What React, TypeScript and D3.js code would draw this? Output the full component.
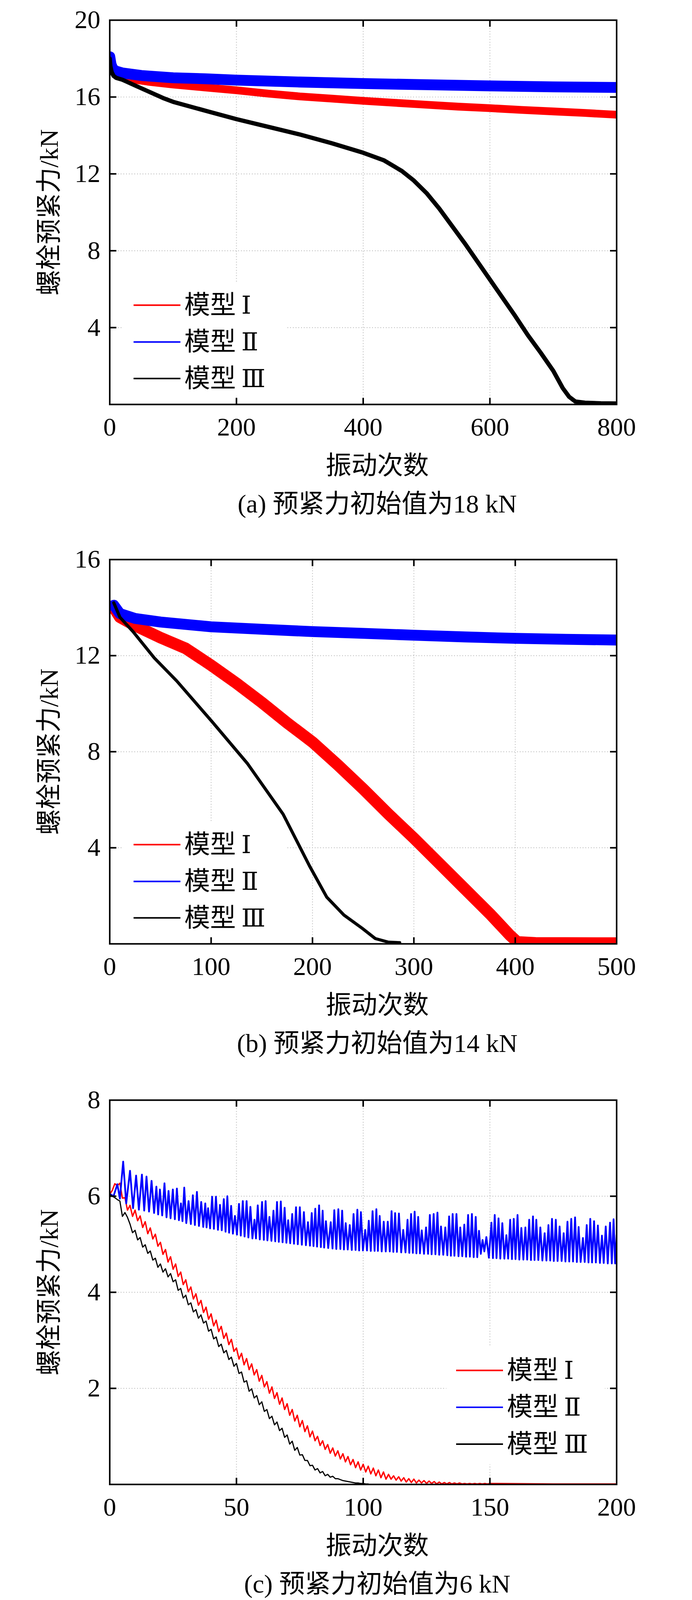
import * as d3 from 'd3';

type Pt = [number, number];

const W = 1772;
const H = 4126;
const PLOT_LEFT = 281;
const PLOT_RIGHT = 1579;
const PLOT_H = 991;
const TEXT_CX = 966;
const FONT = "'Liberation Serif', 'Times New Roman', 'Noto Sans CJK SC', serif";
const NUMERAL_FONT = "'DejaVu Serif', 'Liberation Serif', serif";

const seriesPrefix = '模型';
const seriesNumerals = ['Ⅰ', 'Ⅱ', 'Ⅲ'];
const seriesColors = ['#ff0000', '#0000ff', '#000000'];

// (a) 预紧力初始值为18 kN
const xTicksA = [0, 200, 400, 600, 800];
const yTicksA = [4, 8, 12, 16, 20];
const redA: Pt[] = [
  [0, 18.0], [2, 17.6], [5, 17.35], [10, 17.2], [20, 17.05], [40, 16.9], [60, 16.8],
  [100, 16.65], [150, 16.5], [200, 16.35], [250, 16.18], [300, 16.03], [350, 15.92],
  [400, 15.8], [450, 15.7], [500, 15.6], [550, 15.5], [600, 15.42], [650, 15.33],
  [700, 15.25], [750, 15.17], [800, 15.08],
];
const blueA: Pt[] = [
  [0, 18.1], [2, 17.7], [5, 17.45], [10, 17.35], [20, 17.25], [50, 17.12], [100, 17.0],
  [150, 16.95], [200, 16.88], [300, 16.78], [400, 16.7], [500, 16.64], [600, 16.58],
  [700, 16.53], [800, 16.5],
];
const blackA: Pt[] = [
  [0, 18.0], [1, 17.6], [3, 17.3], [6, 17.1], [10, 17.0], [20, 16.9], [40, 16.6],
  [84, 15.95], [100, 15.75], [155, 15.25], [200, 14.85], [250, 14.45], [300, 14.05],
  [350, 13.6], [400, 13.1], [433, 12.7], [461, 12.15], [480, 11.65], [500, 11.0],
  [520, 10.2], [540, 9.3], [560, 8.4], [580, 7.45], [600, 6.5], [620, 5.55],
  [640, 4.6], [660, 3.6], [680, 2.7], [700, 1.75], [715, 0.85], [725, 0.4],
  [735, 0.15], [750, 0.09], [775, 0.06], [800, 0.05],
];

// (b) 预紧力初始值为14 kN
const xTicksB = [0, 100, 200, 300, 400, 500];
const yTicksB = [4, 8, 12, 16];
const redB: Pt[] = [
  [4, 14.0], [10, 13.6], [25, 13.25], [50, 12.75], [75, 12.3], [100, 11.6], [125, 10.85],
  [150, 10.05], [175, 9.2], [200, 8.4], [225, 7.45], [250, 6.45], [275, 5.4],
  [300, 4.4], [325, 3.35], [350, 2.3], [375, 1.25], [395, 0.35], [402, 0.08],
  [420, 0.04], [500, 0.03],
];
const blueB: Pt[] = [
  [4, 14.1], [10, 13.75], [25, 13.55], [50, 13.4], [100, 13.2], [150, 13.1], [200, 13.0],
  [250, 12.93], [300, 12.85], [350, 12.78], [400, 12.72], [450, 12.68], [500, 12.65],
];
const blackB: Pt[] = [
  [4, 14.2], [10, 13.6], [23, 13.0], [44, 11.9], [66, 10.95], [101, 9.25], [136, 7.5],
  [171, 5.4], [197, 3.25], [214, 1.95], [231, 1.2], [249, 0.65], [262, 0.22],
  [275, 0.07], [286, 0.05],
];

// (c) 预紧力初始值为6 kN  (values at vibration count 0, 1, 2, ...)
const xTicksC = [0, 50, 100, 150, 200];
const yTicksC = [2, 4, 6, 8];
const redC = [
  6.04, 6.12, 6.26, 6.22, 6.27, 5.96, 5.97, 5.71, 5.81, 5.58,
  5.71, 5.49, 5.59, 5.35, 5.47, 5.22, 5.34, 5.11, 5.21, 4.96,
  5.04, 4.79, 4.89, 4.63, 4.74, 4.48, 4.59, 4.33, 4.42, 4.16,
  4.26, 4.01, 4.11, 3.86, 3.97, 3.73, 3.83, 3.58, 3.69, 3.44,
  3.55, 3.30, 3.42, 3.18, 3.29, 3.04, 3.15, 2.91, 3.02, 2.77,
  2.84, 2.61, 2.73, 2.49, 2.62, 2.39, 2.51, 2.28, 2.39, 2.15,
  2.27, 2.03, 2.14, 1.90, 2.03, 1.79, 1.91, 1.67, 1.80, 1.56,
  1.68, 1.44, 1.56, 1.32, 1.44, 1.20, 1.33, 1.10, 1.22, 0.99,
  1.11, 0.91, 1.00, 0.81, 0.91, 0.73, 0.83, 0.65, 0.76, 0.59,
  0.70, 0.53, 0.64, 0.47, 0.58, 0.41, 0.52, 0.35, 0.47, 0.30,
  0.42, 0.26, 0.38, 0.22, 0.34, 0.18, 0.30, 0.14, 0.26, 0.11,
  0.21, 0.11, 0.18, 0.09, 0.16, 0.07, 0.14, 0.05, 0.12, 0.04,
  0.11, 0.03, 0.09, 0.03, 0.08, 0.02, 0.07, 0.02, 0.06, 0.01,
  0.05, 0.01, 0.04, 0.01, 0.04, 0.01, 0.03, 0.01, 0.03, 0.01,
  0.02, 0.01, 0.02, 0.01, 0.02, 0.01, 0.02, 0.01, 0.02, 0.01,
  0.02,
];
const redCTail: Pt[] = [[175, 0.01], [200, 0.01]];
const blackC = [
  6.04, 6.0, 5.97, 5.93, 5.9, 5.58, 5.66, 5.56, 5.42, 5.24,
  5.29, 5.09, 5.14, 4.94, 4.99, 4.81, 4.86, 4.67, 4.71, 4.52,
  4.59, 4.42, 4.49, 4.32, 4.39, 4.22, 4.26, 4.04, 4.08, 3.88,
  3.94, 3.74, 3.78, 3.59, 3.64, 3.46, 3.53, 3.36, 3.40, 3.19,
  3.23, 3.03, 3.07, 2.87, 2.92, 2.74, 2.79, 2.60, 2.65, 2.46,
  2.52, 2.31, 2.34, 2.13, 2.16, 1.94, 1.99, 1.80, 1.85, 1.66,
  1.72, 1.52, 1.56, 1.37, 1.42, 1.24, 1.30, 1.12, 1.17, 0.98,
  1.03, 0.84, 0.90, 0.71, 0.77, 0.61, 0.62, 0.50, 0.50, 0.39,
  0.40, 0.30, 0.33, 0.24, 0.27, 0.18, 0.21, 0.15, 0.17, 0.12,
  0.12, 0.10, 0.08, 0.07, 0.06, 0.05, 0.04, 0.03, 0.03, 0.02,
  0.02, 0.01, 0.01,
];
const blueC: Pt[] = [
  [0, 6.05], [1.5, 6.0], [3, 6.25], [4, 5.95], [5.3, 6.72], [6.5, 5.85], [8.0, 6.53], [9.2, 5.75],
  [10.4, 6.43], [11.5, 5.72], [12.7, 6.45], [13.6, 5.7], [14.5, 6.41], [15.5, 5.68], [16.5, 6.32],
  [17.5, 5.65], [18.4, 6.2], [19.1, 5.62], [19.8, 6.14], [20.7, 5.6], [21.6, 6.27], [22.4, 5.56],
  [23.2, 6.11], [24.0, 5.54], [24.9, 6.14], [25.7, 5.52], [26.5, 6.16], [27.3, 5.5], [28.1, 5.85],
  [28.7, 5.48], [29.4, 6.18], [30.2, 5.44], [31.1, 5.9], [32.0, 5.42], [32.8, 6.02], [33.6, 5.4],
  [34.4, 6.09], [35.2, 5.38], [36.1, 5.88], [36.9, 5.36], [37.7, 5.85], [38.2, 5.35], [38.8, 5.75],
  [39.6, 5.33], [40.4, 5.99], [41.1, 5.32], [41.9, 5.99], [42.7, 5.3], [43.5, 5.82], [44.2, 5.29],
  [45.0, 5.94], [45.7, 5.26], [46.4, 6.0], [47.1, 5.24], [47.9, 5.8], [48.6, 5.22], [49.4, 5.59],
  [50.2, 5.2], [51.0, 5.84], [51.7, 5.18], [52.5, 5.9], [53.2, 5.16], [54.0, 5.9], [54.7, 5.14],
  [55.5, 5.78], [56.3, 5.12], [57.1, 5.51], [57.7, 5.12], [58.4, 5.81], [59.2, 5.1], [60.1, 5.88],
  [60.8, 5.09], [61.5, 5.9], [62.2, 5.08], [63.0, 5.57], [63.8, 5.07], [64.6, 5.7], [65.3, 5.06],
  [66.0, 5.88], [66.7, 5.05], [67.5, 5.89], [68.2, 5.04], [69.0, 5.76], [69.7, 5.03], [70.4, 5.5],
  [71.2, 5.02], [72.0, 5.63], [72.7, 5.01], [73.5, 5.77], [74.2, 5.0], [75.0, 5.77], [75.8, 4.99],
  [76.6, 5.67], [77.4, 4.98], [78.2, 5.46], [79.0, 4.97], [79.7, 5.65], [80.4, 4.96], [81.1, 5.74],
  [81.8, 4.95], [82.6, 5.81], [83.3, 4.94], [84.0, 5.7], [84.6, 4.93], [85.3, 5.48], [86.2, 4.92],
  [87.2, 5.46], [87.9, 4.91], [88.6, 5.71], [89.4, 4.9], [90.2, 5.73], [91.0, 4.9], [91.7, 5.7],
  [92.4, 4.89], [93.1, 5.44], [93.9, 4.89], [94.7, 5.4], [95.5, 4.88], [96.2, 5.63], [97.0, 4.88],
  [97.7, 5.72], [98.4, 4.87], [99.1, 5.67], [99.9, 4.87], [100.8, 5.3], [101.5, 4.87], [102.2, 5.49],
  [103.0, 4.86], [103.7, 5.69], [104.5, 4.86], [105.2, 5.73], [105.8, 4.86], [106.5, 5.59],
  [107.3, 4.85], [108.1, 5.47], [108.9, 4.85], [109.7, 5.47], [110.5, 4.85], [111.2, 5.69],
  [111.9, 4.84], [112.6, 5.65], [113.3, 4.84], [114.1, 5.64], [115.0, 4.83], [115.8, 5.3],
  [116.7, 4.83], [117.5, 5.51], [118.2, 4.82], [118.9, 5.63], [119.6, 4.82], [120.3, 5.68],
  [121.0, 4.81], [121.7, 5.57], [122.4, 4.81], [123.1, 5.29], [124.0, 4.8], [124.8, 5.35],
  [125.6, 4.8], [126.3, 5.61], [127.0, 4.79], [127.8, 5.63], [128.5, 4.79], [129.3, 5.66],
  [130.0, 4.78], [130.7, 5.37], [131.6, 4.78], [132.4, 5.35], [133.2, 4.77], [133.9, 5.58],
  [134.6, 4.76], [135.3, 5.63], [136.0, 4.76], [136.8, 5.63], [137.6, 4.75], [138.3, 5.35],
  [139.1, 4.75], [139.9, 5.41], [140.6, 4.74], [141.4, 5.61], [142.1, 4.74], [142.9, 5.63],
  [143.6, 4.73], [144.4, 5.57], [145.0, 4.73], [145.7, 5.28], [146.4, 4.8], [147.1, 5.09],
  [147.8, 4.85], [148.6, 5.15], [149.6, 4.72], [150.6, 5.45], [151.2, 4.71], [151.9, 5.61],
  [152.6, 4.71], [153.4, 5.54], [154.1, 4.7], [154.9, 5.44], [155.7, 4.7], [156.5, 5.19],
  [157.2, 4.7], [158.0, 5.51], [158.7, 4.69], [159.4, 5.53], [160.1, 4.69], [160.9, 5.61],
  [161.6, 4.68], [162.4, 5.34], [163.2, 4.68], [164.0, 5.35], [164.7, 4.68], [165.5, 5.51],
  [166.2, 4.67], [167.0, 5.58], [167.6, 4.67], [168.3, 5.51], [169.1, 4.67], [169.9, 5.35],
  [170.7, 4.66], [171.6, 5.23], [172.3, 4.66], [173.1, 5.4], [173.8, 4.66], [174.5, 5.53],
  [175.2, 4.65], [176.0, 5.51], [176.7, 4.65], [177.5, 5.37], [178.3, 4.65], [179.1, 5.23],
  [179.8, 4.64], [180.6, 5.47], [181.3, 4.64], [182.1, 5.53], [182.8, 4.64], [183.6, 5.56],
  [184.3, 4.63], [185.0, 5.36], [185.8, 4.63], [186.7, 5.13], [187.4, 4.63], [188.2, 5.4],
  [188.9, 4.62], [189.6, 5.53], [190.3, 4.62], [191.1, 5.48], [191.8, 4.62], [192.6, 5.39],
  [193.4, 4.61], [194.2, 5.18], [194.9, 4.61], [195.7, 5.37], [196.5, 4.6], [197.4, 5.45],
  [198.1, 4.6], [198.8, 5.52], [199.4, 4.6], [200, 5.2],
];

interface Series {
  points: Pt[];
  width: number;
}

interface LegendBox {
  x: number;
  y: number;
  w: number;
  h: number;
  lineX: number;
  rows: number[];
}

interface PanelProps {
  id: string;
  top: number;
  xMax: number;
  yMax: number;
  xTicks: number[];
  yTicks: number[];
  series: Series[];
  legend: LegendBox;
  caption: string;
}

function Panel({ id, top, xMax, yMax, xTicks, yTicks, series, legend, caption }: PanelProps) {
  const bottom = top + PLOT_H;
  const x = d3.scaleLinear().domain([0, xMax]).range([PLOT_LEFT, PLOT_RIGHT]);
  const y = d3.scaleLinear().domain([0, yMax]).range([bottom, top]);
  const line = d3.line<Pt>().x(d => x(d[0])).y(d => y(d[1]));
  const tickLen = 17;

  const innerX = xTicks.filter(t => t > 0 && t < xMax);
  const innerY = yTicks.filter(t => t > 0 && t < yMax);

  return (
    <g>
      <defs>
        <clipPath id={`clip-${id}`}>
          <rect x={PLOT_LEFT} y={top} width={PLOT_RIGHT - PLOT_LEFT} height={PLOT_H} />
        </clipPath>
      </defs>

      {/* dotted grid */}
      <g stroke="#b4b4b4" strokeWidth={2} strokeDasharray="2 5">
        {innerX.map(t => (
          <line key={`gx${t}`} x1={x(t)} x2={x(t)} y1={top} y2={bottom} />
        ))}
        {innerY.map(t => (
          <line key={`gy${t}`} x1={PLOT_LEFT} x2={PLOT_RIGHT} y1={y(t)} y2={y(t)} />
        ))}
      </g>

      <g clipPath={`url(#clip-${id})`}>
        {series.map((s, i) => (
          <path
            key={i}
            d={line(s.points) ?? ''}
            fill="none"
            stroke={seriesColors[i]}
            strokeWidth={s.width}
            strokeLinejoin="round"
            strokeLinecap="round"
          />
        ))}
      </g>

      {/* legend */}
      <rect
        x={PLOT_LEFT + legend.x}
        y={top + legend.y}
        width={legend.w}
        height={legend.h}
        fill="#ffffff"
      />
      {seriesNumerals.map((num, i) => (
        <g key={num}>
          <line
            x1={PLOT_LEFT + legend.lineX}
            x2={PLOT_LEFT + legend.lineX + 120}
            y1={top + legend.rows[i]}
            y2={top + legend.rows[i]}
            stroke={seriesColors[i]}
            strokeWidth={4}
          />
          <text
            x={PLOT_LEFT + legend.lineX + 130}
            y={top + legend.rows[i] + 22}
            fontSize={66}
            fontFamily={FONT}
            fill="#000"
          >
            {seriesPrefix}
            <tspan dx={14} fontFamily={NUMERAL_FONT} fontSize={64}>
              {num}
            </tspan>
          </text>
        </g>
      ))}

      {/* frame and inward ticks */}
      <rect
        x={PLOT_LEFT}
        y={top}
        width={PLOT_RIGHT - PLOT_LEFT}
        height={PLOT_H}
        fill="none"
        stroke="#000"
        strokeWidth={4}
      />
      <g stroke="#000" strokeWidth={4}>
        {innerX.map(t => (
          <g key={`tx${t}`}>
            <line x1={x(t)} x2={x(t)} y1={bottom} y2={bottom - tickLen} />
            <line x1={x(t)} x2={x(t)} y1={top} y2={top + tickLen} />
          </g>
        ))}
        {innerY.map(t => (
          <g key={`ty${t}`}>
            <line x1={PLOT_LEFT} x2={PLOT_LEFT + tickLen} y1={y(t)} y2={y(t)} />
            <line x1={PLOT_RIGHT} x2={PLOT_RIGHT - tickLen} y1={y(t)} y2={y(t)} />
          </g>
        ))}
      </g>

      {/* tick labels */}
      <g fontFamily={FONT} fontSize={66} fill="#000">
        {xTicks.map(t => (
          <text key={`lx${t}`} x={x(t)} y={bottom + 80} textAnchor="middle">
            {t}
          </text>
        ))}
        {yTicks.map(t => (
          <text key={`ly${t}`} x={257} y={y(t) + 21} textAnchor="end">
            {t}
          </text>
        ))}
      </g>

      {/* axis titles and caption */}
      <text
        transform={`translate(148, ${(top + bottom) / 2}) rotate(-90)`}
        textAnchor="middle"
        fontFamily={FONT}
        fontSize={66}
        fill="#000"
      >
        螺栓预紧力/kN
      </text>
      <text x={TEXT_CX} y={bottom + 180} textAnchor="middle" fontFamily={FONT} fontSize={66} fill="#000">
        振动次数
      </text>
      <text x={TEXT_CX} y={bottom + 279} textAnchor="middle" fontFamily={FONT} fontSize={66} fill="#000">
        {caption}
      </text>
    </g>
  );
}

const legendLeft: LegendBox = { x: 32, y: 676, w: 418, h: 292, lineX: 61, rows: [735, 830, 924] };
const legendRight: LegendBox = { x: 862, y: 635, w: 406, h: 304, lineX: 887, rows: [697, 792, 887] };

export default function App() {
  const redCPoints: Pt[] = [...redC.map((v, i) => [i, v] as Pt), ...redCTail];
  const blackCPoints: Pt[] = blackC.map((v, i) => [i, v] as Pt);

  // fit the whole figure into the visible page height
  const viewH =
    typeof window !== 'undefined' && window.innerHeight > 1000 ? Math.min(window.innerHeight, H) : H;

  return (
    <svg
      width={W}
      height={viewH}
      viewBox={`0 0 ${W} ${H}`}
      preserveAspectRatio="none"
      style={{ position: 'absolute', left: 0, top: 0, display: 'block', background: '#fff' }}
    >
      <rect width={W} height={H} fill="#fff" />
      <Panel
        id="a"
        top={52}
        xMax={800}
        yMax={20}
        xTicks={xTicksA}
        yTicks={yTicksA}
        series={[
          { points: redA, width: 20 },
          { points: blueA, width: 28 },
          { points: blackA, width: 11 },
        ]}
        legend={legendLeft}
        caption="(a) 预紧力初始值为18 kN"
      />
      <Panel
        id="b"
        top={1443}
        xMax={500}
        yMax={16}
        xTicks={xTicksB}
        yTicks={yTicksB}
        series={[
          { points: redB, width: 30 },
          { points: blueB, width: 28 },
          { points: blackB, width: 8 },
        ]}
        legend={legendLeft}
        caption="(b) 预紧力初始值为14 kN"
      />
      <Panel
        id="c"
        top={2837}
        xMax={200}
        yMax={8}
        xTicks={xTicksC}
        yTicks={yTicksC}
        series={[
          { points: redCPoints, width: 3.5 },
          { points: blueC, width: 4.5 },
          { points: blackCPoints, width: 3 },
        ]}
        legend={legendRight}
        caption="(c) 预紧力初始值为6 kN"
      />
    </svg>
  );
}
